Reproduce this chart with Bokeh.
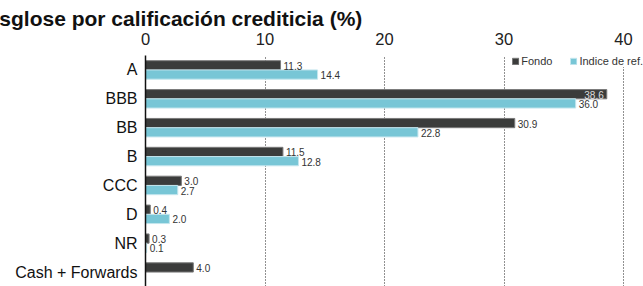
from bokeh.plotting import figure
from bokeh.models import ColumnDataSource, FactorRange, FixedTicker, Legend, LegendItem, Title
from bokeh.transform import dodge
from bokeh.embed import file_html
from bokeh.resources import INLINE
from bokeh.core.properties import value
import math

# ---- data ----
categories = ["A", "BBB", "BB", "B", "CCC", "D", "NR", "Cash + Forwards"]
fondo = [11.3, 38.6, 30.9, 11.5, 3.0, 0.4, 0.3, 4.0]
indice = [14.4, 36.0, 22.8, 12.8, 2.7, 2.0, 0.1, float("nan")]
x_ticks = [0, 10, 20, 30, 40]
series_names = ["Fondo", "Indice de ref."]
title_text = "Desglose por calificación crediticia (%)"

DARK = "#3b3c3b"
LIGHT = "#78c6d6"
DARK_EDGE = "#7a7a7a"
LIGHT_EDGE = "#c4e6ee"
FONT = "Liberation Sans"

W, H = 643, 286
FRAME_LEFT, FRAME_TOP = 145, 55
PX_PER_UNIT = 11.95
x_end = (W - FRAME_LEFT) / PX_PER_UNIT

p = figure(width=W, height=H,
           y_range=FactorRange(*reversed(categories)),
           x_range=(0, x_end),
           x_axis_location="above",
           output_backend="svg", toolbar_location=None,
           min_border_left=FRAME_LEFT, min_border_top=FRAME_TOP,
           min_border_right=0, min_border_bottom=0)
p.outline_line_color = None
p.background_fill_color = "white"
p.border_fill_color = "white"

p.title = Title(text=title_text, align="left", offset=-28 - FRAME_LEFT, standoff=0,
                text_font=FONT, text_font_size="21px", text_font_style="bold",
                text_color="#111111")

src = ColumnDataSource(dict(cat=categories, fondo=fondo, indice=indice))
BH = 0.32
r1 = p.hbar(y=dodge("cat", BH / 2, range=p.y_range), left=0, right="fondo", height=BH,
            source=src, fill_color=DARK, line_color=DARK_EDGE, line_width=1)
r2 = p.hbar(y=dodge("cat", -BH / 2, range=p.y_range), left=0, right="indice", height=BH,
            source=src, fill_color=LIGHT, line_color=LIGHT_EDGE, line_width=1)

def label_sources(vals):
    out = dict(cat=[], v=[], t=[])
    ins = dict(cat=[], v=[], t=[])
    for c, v in zip(categories, vals):
        if v is None or (isinstance(v, float) and math.isnan(v)):
            continue
        d = ins if v >= 38 else out
        d["cat"].append(c); d["v"].append(v); d["t"].append(f"{v:.1f}")
    return ColumnDataSource(out), ColumnDataSource(ins)

for vals, off in ((fondo, BH / 2), (indice, -BH / 2)):
    s_out, s_in = label_sources(vals)
    p.text(x="v", y=dodge("cat", off, range=p.y_range), text="t", source=s_out,
           x_offset=3, y_offset=0.5, text_align="left", text_baseline="middle",
           text_font=value(FONT), text_font_size="10px", text_color="#333333")
    p.text(x="v", y=dodge("cat", off, range=p.y_range), text="t", source=s_in,
           x_offset=-3, y_offset=0.5, text_align="right", text_baseline="middle",
           text_font=value(FONT), text_font_size="10px", text_color="#dddddd")

xa = p.xaxis[0]
xa.ticker = FixedTicker(ticks=x_ticks)
xa.axis_line_color = None
xa.major_tick_line_color = None
xa.minor_tick_line_color = None
xa.major_tick_out = 0
xa.major_tick_in = 0
xa.major_label_standoff = 11
xa.major_label_text_font = FONT
xa.major_label_text_font_size = "16.5px"
xa.major_label_text_color = "#222222"

ya = p.yaxis[0]
ya.axis_line_color = "#111111"
ya.axis_line_width = 1.5
ya.major_tick_line_color = None
ya.minor_tick_line_color = None
ya.major_tick_out = 0
ya.major_label_standoff = 8
ya.major_label_text_font = FONT
ya.major_label_text_font_size = "16px"
ya.major_label_text_color = "#111111"

p.ygrid.grid_line_color = None
p.xgrid.ticker = FixedTicker(ticks=x_ticks[1:])
p.xgrid.grid_line_color = "#222222"
p.xgrid.grid_line_dash = "1 2"
p.xgrid.grid_line_width = 1

legend = Legend(items=[LegendItem(label=series_names[0], renderers=[r1]),
                       LegendItem(label=series_names[1], renderers=[r2])],
                location="top_right", orientation="horizontal",
                glyph_width=8, glyph_height=8, label_standoff=2, spacing=17,
                padding=1, margin=0, border_line_color=None,
                background_fill_color="white", background_fill_alpha=1.0,
                label_text_font=FONT, label_text_font_size="11px", label_text_color="#333333")
p.add_layout(legend)

open("out.html", "w").write(file_html(p, INLINE))
